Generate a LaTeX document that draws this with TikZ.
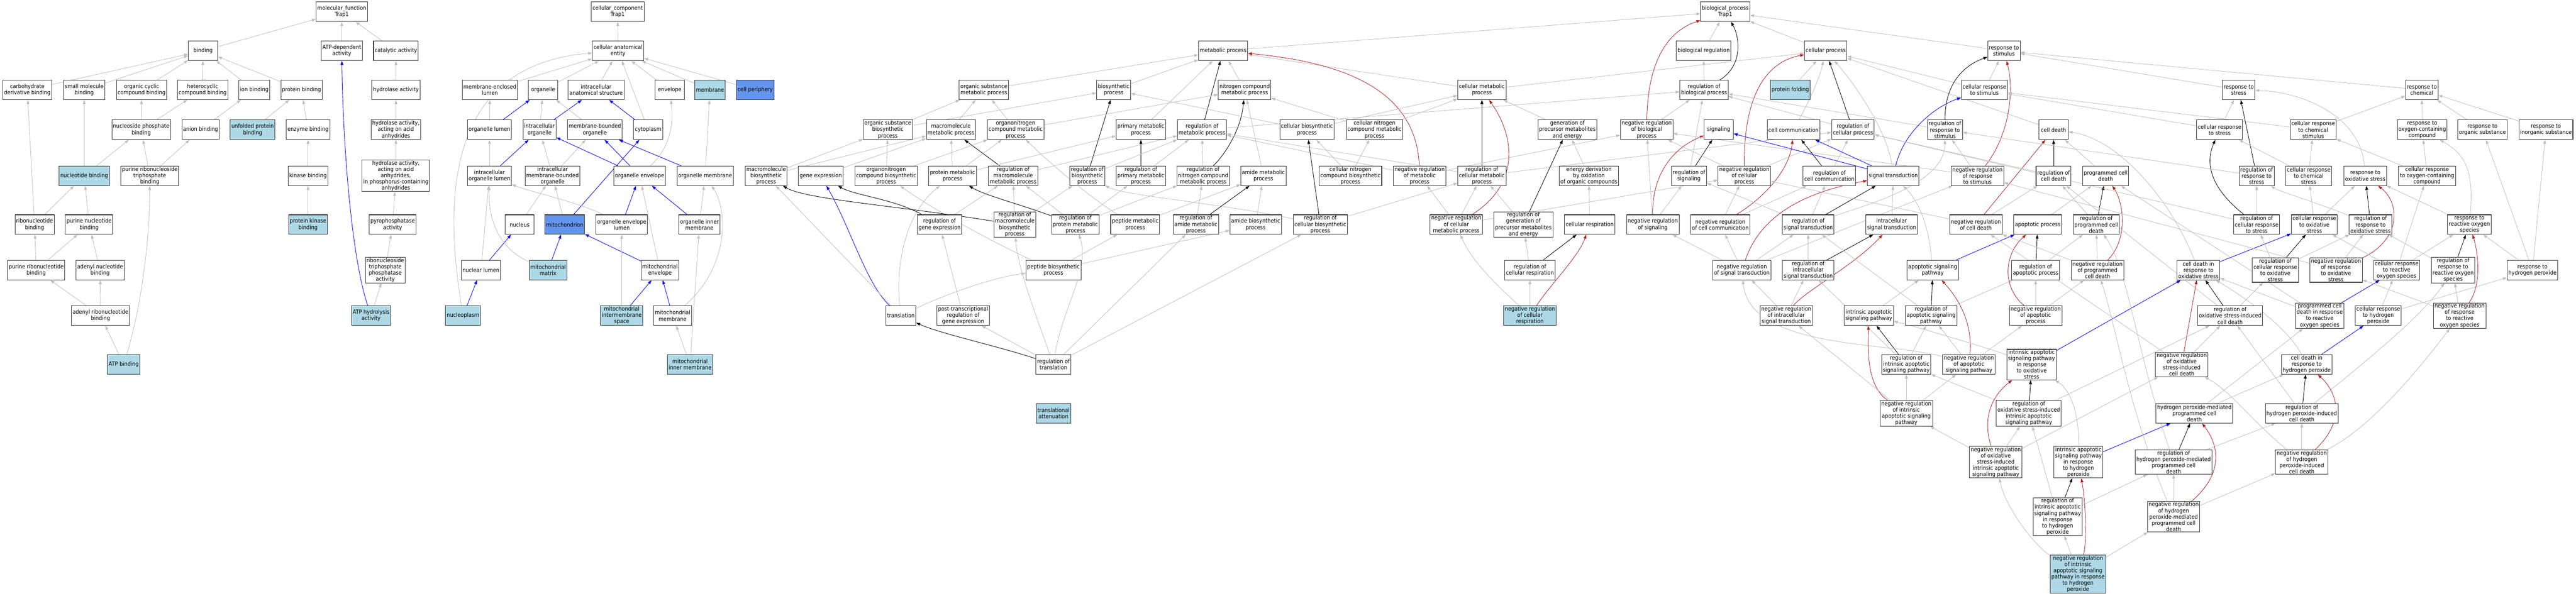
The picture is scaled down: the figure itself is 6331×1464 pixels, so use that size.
\documentclass[tikz,border=0pt]{standalone}
\usepackage{fontspec}
\setmainfont{DejaVu Sans Condensed}
\usepackage{xcolor}
\usetikzlibrary{arrows.meta}
\definecolor{hitblue}{RGB}{173,216,230}
\definecolor{keyblue}{RGB}{100,149,237}
\definecolor{isagrey}{RGB}{192,192,192}
\definecolor{negred}{RGB}{178,34,34}
\newcommand{\gofont}{\fontsize{14}{15.3}\selectfont}
\pgfdeclarelayer{edges}
\pgfsetlayers{edges,main}

\begin{document}
\begin{tikzpicture}[x=1pt, y=-1pt,
        gobox/.style={rectangle, draw=black!80, line width=1.3pt, fill=white, align=center, font=\gofont, minimum width=72pt, minimum height=48pt, inner xsep=3pt, inner ysep=1.5pt},
        hitbox/.style={gobox, fill=hitblue},
        keybox/.style={gobox, fill=keyblue},
        isa/.style={-{Triangle[length=10pt, width=7pt]}, line width=1.1pt, isagrey},
        partof/.style={isa, blue},
        reg/.style={isa, black},
        negreg/.style={isa, negred}
    ]
        \useasboundingbox (0,0) rectangle (6331,1464);

        % Molecular function
        \node[gobox] (mf) at (840,29) {molecular\_function\\Trap1};
        \node[gobox] (binding) at (499,125) {binding};
        \node[gobox] (atpdep) at (840,125) {ATP-dependent\\activity};
        \node[gobox] (catalytic) at (973,125) {catalytic activity};
        \node[gobox] (carbo) at (67,221) {carbohydrate\\derivative binding};
        \node[gobox] (smallmol) at (207,221) {small molecule\\binding};
        \node[gobox] (orgcyc) at (348,221) {organic cyclic\\compound binding};
        \node[gobox] (hetcyc) at (498,221) {heterocyclic\\compound binding};
        \node[gobox] (ionb) at (625,221) {ion binding};
        \node[gobox] (protb) at (741,221) {protein binding};
        \node[gobox] (hydro) at (973,221) {hydrolase activity};
        \node[gobox] (nsphos) at (347,319) {nucleoside phosphate\\binding};
        \node[gobox] (anion) at (493,319) {anion binding};
        \node[hitbox] (unfolded) at (621,319) {unfolded protein\\binding};
        \node[gobox] (enzyme) at (757,319) {enzyme binding};
        \node[gobox] (hydroacid) at (973,319) {hydrolase activity,\\acting on acid\\anhydrides};
        \node[hitbox] (nucbind) at (207,432) {nucleotide binding};
        \node[gobox] (prtp) at (368,432) {purine ribonucleoside\\triphosphate\\binding};
        \node[gobox] (kinase) at (757,432) {kinase binding};
        \node[gobox] (hydrophos) at (973,432) {hydrolase activity,\\acting on acid\\anhydrides,\\in phosphorus-containing\\anhydrides};
        \node[gobox] (ribonuc) at (85,552) {ribonucleotide\\binding};
        \node[gobox] (purnuc) at (219,552) {purine nucleotide\\binding};
        \node[hitbox] (protkin) at (757,552) {protein kinase\\binding};
        \node[gobox] (pyro) at (965,552) {pyrophosphatase\\activity};
        \node[gobox] (purribo) at (89,664) {purine ribonucleotide\\binding};
        \node[gobox] (adenyl) at (246,664) {adenyl nucleotide\\binding};
        \node[gobox] (rtpp) at (947,664) {ribonucleoside\\triphosphate\\phosphatase\\activity};
        \node[gobox] (adenylribo) at (247,776) {adenyl ribonucleotide\\binding};
        \node[hitbox] (atphyd) at (912,776) {ATP hydrolysis\\activity};
        \node[hitbox] (atpbind) at (304,896) {ATP binding};

        % Cellular component
        \node[gobox] (cc) at (1518,29) {cellular\_component\\Trap1};
        \node[gobox] (cae) at (1519,125) {cellular anatomical\\entity};
        \node[gobox] (melumen) at (1204,221) {membrane-enclosed\\lumen};
        \node[gobox] (organelle) at (1335,221) {organelle};
        \node[gobox] (ias) at (1465,221) {intracellular\\anatomical structure};
        \node[gobox] (envelope) at (1646,221) {envelope};
        \node[hitbox] (membrane) at (1745,221) {membrane};
        \node[keybox] (cellper) at (1856,221) {cell periphery};
        \node[gobox] (orglumen) at (1203,319) {organelle lumen};
        \node[gobox] (intraorg) at (1326,319) {intracellular\\organelle};
        \node[gobox] (mbo) at (1462,319) {membrane-bounded\\organelle};
        \node[gobox] (cytoplasm) at (1593,319) {cytoplasm};
        \node[gobox] (iol) at (1203,432) {intracellular\\organelle lumen};
        \node[gobox] (imbo) at (1358,432) {intracellular\\membrane-bounded\\organelle};
        \node[gobox] (orgenv) at (1572,432) {organelle envelope};
        \node[gobox] (orgmem) at (1733,432) {organelle membrane};
        \node[gobox] (nucleus) at (1277,552) {nucleus};
        \node[keybox] (mito) at (1388,552) {mitochondrion};
        \node[gobox] (oel) at (1528,552) {organelle envelope\\lumen};
        \node[gobox] (oim) at (1719,552) {organelle inner\\membrane};
        \node[gobox] (nuclumen) at (1182,664) {nuclear lumen};
        \node[hitbox] (mitomatrix) at (1347,664) {mitochondrial\\matrix};
        \node[gobox] (mitoenv) at (1622,664) {mitochondrial\\envelope};
        \node[hitbox] (nucleoplasm) at (1138,776) {nucleoplasm};
        \node[hitbox] (mims) at (1528,776) {mitochondrial\\intermembrane\\space};
        \node[gobox] (mitomem) at (1653,776) {mitochondrial\\membrane};
        \node[hitbox] (mimem) at (1696,896) {mitochondrial\\inner membrane};

        % Biological process: metabolism
        \node[gobox] (bp) at (4240,29) {biological\_process\\Trap1};
        \node[gobox] (metab) at (3006,125) {metabolic process};
        \node[gobox] (biolreg) at (4187,125) {biological regulation};
        \node[gobox] (osmp) at (2418,221) {organic substance\\metabolic process};
        \node[gobox] (biosyn) at (2737,221) {biosynthetic\\process};
        \node[gobox] (ncmp) at (3059,221) {nitrogen compound\\metabolic process};
        \node[gobox] (cellmp) at (3642,221) {cellular metabolic\\process};
        \node[gobox] (regbiol) at (4188,221) {regulation of\\biological process};
        \node[gobox] (osbp) at (2182,319) {organic substance\\biosynthetic\\process};
        \node[gobox] (mmp) at (2337,319) {macromolecule\\metabolic process};
        \node[gobox] (oncmp) at (2496,319) {organonitrogen\\compound metabolic\\process};
        \node[gobox] (pmp) at (2804,319) {primary metabolic\\process};
        \node[gobox] (regmp) at (2954,319) {regulation of\\metabolic process};
        \node[gobox] (cellbp) at (3212,319) {cellular biosynthetic\\process};
        \node[gobox] (cnmp) at (3378,319) {cellular nitrogen\\compound metabolic\\process};
        \node[gobox] (genprec) at (3852,319) {generation of\\precursor metabolites\\and energy};
        \node[gobox] (negbiol) at (4047,319) {negative regulation\\of biological\\process};
        \node[gobox] (signaling) at (4224,319) {signaling};
        \node[gobox] (mbp) at (1883,432) {macromolecule\\biosynthetic\\process};
        \node[gobox] (geneexp) at (2017,432) {gene expression};
        \node[gobox] (oncbp) at (2178,432) {organonitrogen\\compound biosynthetic\\process};
        \node[gobox] (protmp) at (2341,432) {protein metabolic\\process};
        \node[gobox] (regmmp) at (2490,432) {regulation of\\macromolecule\\metabolic process};
        \node[gobox] (regbp) at (2672,432) {regulation of\\biosynthetic\\process};
        \node[gobox] (regpmp) at (2804,432) {regulation of\\primary metabolic\\process};
        \node[gobox] (regncmp) at (2957,432) {regulation of\\nitrogen compound\\metabolic process};
        \node[gobox] (amidemp) at (3105,432) {amide metabolic\\process};
        \node[gobox] (cnbp) at (3319,432) {cellular nitrogen\\compound biosynthetic\\process};
        \node[gobox] (negmp) at (3489,432) {negative regulation\\of metabolic\\process};
        \node[gobox] (regcmp) at (3642,432) {regulation of\\cellular metabolic\\process};
        \node[gobox] (energy) at (3905,432) {energy derivation\\by oxidation\\of organic compounds};
        \node[gobox] (regsig) at (4151,432) {regulation of\\signaling};
        \node[gobox] (negcp) at (4287,432) {negative regulation\\of cellular\\process};
        \node[gobox] (reggene) at (2309,552) {regulation of\\gene expression};
        \node[gobox] (regmbp) at (2494,552) {regulation of\\macromolecule\\biosynthetic\\process};
        \node[gobox] (regprotmp) at (2643,552) {regulation of\\protein metabolic\\process};
        \node[gobox] (peptmp) at (2790,552) {peptide metabolic\\process};
        \node[gobox] (regamide) at (2939,552) {regulation of\\amide metabolic\\process};
        \node[gobox] (amidebp) at (3086,552) {amide biosynthetic\\process};
        \node[gobox] (regcbp) at (3245,552) {regulation of\\cellular biosynthetic\\process};
        \node[gobox] (negcmp) at (3579,552) {negative regulation\\of cellular\\metabolic process};
        \node[gobox] (reggen) at (3744,552) {regulation of\\generation of\\precursor metabolites\\and energy};
        \node[gobox] (cellresp) at (3907,552) {cellular respiration};
        \node[gobox] (negsig) at (4062,552) {negative regulation\\of signaling};
        \node[gobox] (negcc) at (4228,552) {negative regulation\\of cell communication};
        \node[gobox] (peptbp) at (2589,664) {peptide biosynthetic\\process};
        \node[gobox] (regcr) at (3760,664) {regulation of\\cellular respiration};
        \node[gobox] (negst) at (4281,664) {negative regulation\\of signal transduction};
        \node[gobox] (translation) at (2214,776) {translation};
        \node[gobox] (ptrge) at (2367,776) {post-transcriptional\\regulation of\\gene expression};
        \node[hitbox] (negcr) at (3760,776) {negative regulation\\of cellular\\respiration};
        \node[gobox] (regtransl) at (2589,896) {regulation of\\translation};
        \node[hitbox] (transatt) at (2589,1016) {translational\\attenuation};

        % Biological process: signalling and cell death
        \node[gobox] (cellproc) at (4487,125) {cellular process};
        \node[gobox] (respstim) at (4925,125) {response to\\stimulus};
        \node[hitbox] (protfold) at (4400,221) {protein folding};
        \node[gobox] (crs) at (4877,221) {cellular response\\to stimulus};
        \node[gobox] (cellcomm) at (4408,319) {cell communication};
        \node[gobox] (regcp) at (4554,319) {regulation of\\cellular process};
        \node[gobox] (regrs) at (4780,319) {regulation of\\response to\\stimulus};
        \node[gobox] (celldeath) at (5047,319) {cell death};
        \node[gobox] (regcc) at (4496,432) {regulation of\\cell communication};
        \node[gobox] (sigtrans) at (4653,432) {signal transduction};
        \node[gobox] (negrs) at (4860,432) {negative regulation\\of response\\to stimulus};
        \node[gobox] (regcd) at (5047,432) {regulation of\\cell death};
        \node[gobox] (pcd) at (5175,432) {programmed cell\\death};
        \node[gobox] (regst) at (4444,552) {regulation of\\signal transduction};
        \node[gobox] (ist) at (4649,552) {intracellular\\signal transduction};
        \node[gobox] (negcd) at (4856,552) {negative regulation\\of cell death};
        \node[gobox] (apop) at (5008,552) {apoptotic process};
        \node[gobox] (regpcd) at (5152,552) {regulation of\\programmed cell\\death};
        \node[gobox] (regist) at (4444,664) {regulation of\\intracellular\\signal transduction};
        \node[gobox] (asp) at (4750,664) {apoptotic signaling\\pathway};
        \node[gobox] (regap) at (5003,664) {regulation of\\apoptotic process};
        \node[gobox] (negpcd) at (5155,664) {negative regulation\\of programmed\\cell death};
        \node[gobox] (negist) at (4390,776) {negative regulation\\of intracellular\\signal transduction};
        \node[gobox] (iasp) at (4593,776) {intrinsic apoptotic\\signaling pathway};
        \node[gobox] (regasp) at (4746,776) {regulation of\\apoptotic signaling\\pathway};
        \node[gobox] (negap) at (5003,776) {negative regulation\\of apoptotic\\process};
        \node[gobox] (regiasp) at (4685,896) {regulation of\\intrinsic apoptotic\\signaling pathway};
        \node[gobox] (negasp) at (4839,896) {negative regulation\\of apoptotic\\signaling pathway};
        \node[gobox] (iaspox) at (4993,896) {intrinsic apoptotic\\signaling pathway\\in response\\to oxidative\\stress};
        \node[gobox] (negiasp) at (4685,1016) {negative regulation\\of intrinsic\\apoptotic signaling\\pathway};
        \node[gobox] (regosiasp) at (4986,1016) {regulation of\\oxidative stress-induced\\intrinsic apoptotic\\signaling pathway};
        \node[gobox] (negosiasp) at (4905,1136) {negative regulation\\of oxidative\\stress-induced\\intrinsic apoptotic\\signaling pathway};
        \node[gobox] (iasph2o2) at (5108,1136) {intrinsic apoptotic\\signaling pathway\\in response\\to hydrogen\\peroxide};
        \node[gobox] (regiasph) at (5057,1270) {regulation of\\intrinsic apoptotic\\signaling pathway\\in response\\to hydrogen\\peroxide};
        \node[hitbox] (negiasph) at (5107,1411) {negative regulation\\of intrinsic\\apoptotic signaling\\pathway in response\\to hydrogen\\peroxide};

        % Biological process: stress responses
        \node[gobox] (rstress) at (5502,221) {response to\\stress};
        \node[gobox] (rchem) at (5952,221) {response to\\chemical};
        \node[gobox] (crstress) at (5455,319) {cellular response\\to stress};
        \node[gobox] (crchem) at (5685,319) {cellular response\\to chemical\\stimulus};
        \node[gobox] (rocc) at (5953,319) {response to\\oxygen-containing\\compound};
        \node[gobox] (rorg) at (6101,319) {response to\\organic substance};
        \node[gobox] (rinorg) at (6257,319) {response to\\inorganic substance};
        \node[gobox] (regrstress) at (5546,432) {regulation of\\response to\\stress};
        \node[gobox] (crchemstress) at (5674,432) {cellular response\\to chemical\\stress};
        \node[gobox] (rox) at (5813,432) {response to\\oxidative stress};
        \node[gobox] (crocc) at (5965,432) {cellular response\\to oxygen-containing\\compound};
        \node[gobox] (regcrs) at (5546,552) {regulation of\\cellular response\\to stress};
        \node[gobox] (crox) at (5688,552) {cellular response\\to oxidative\\stress};
        \node[gobox] (regrox) at (5826,552) {regulation of\\response to\\oxidative stress};
        \node[gobox] (rros) at (6069,552) {response to\\reactive oxygen\\species};
        \node[gobox] (cdox) at (5403,664) {cell death in\\response to\\oxidative stress};
        \node[gobox] (regcrox) at (5592,664) {regulation of\\cellular response\\to oxidative\\stress};
        \node[gobox] (negrox) at (5741,664) {negative regulation\\of response\\to oxidative\\stress};
        \node[gobox] (crros) at (5890,664) {cellular response\\to reactive\\oxygen species};
        \node[gobox] (regrros) at (6029,664) {regulation of\\response to\\reactive oxygen\\species};
        \node[gobox] (rh2o2) at (6224,664) {response to\\hydrogen peroxide};
        \node[gobox] (regoscd) at (5481,776) {regulation of\\oxidative stress-induced\\cell death};
        \node[gobox] (pcdros) at (5701,776) {programmed cell\\death in response\\to reactive\\oxygen species};
        \node[gobox] (crh2o2) at (5845,776) {cellular response\\to hydrogen\\peroxide};
        \node[gobox] (negrros) at (6045,776) {negative regulation\\of response\\to reactive\\oxygen species};
        \node[gobox] (negoscd) at (5362,896) {negative regulation\\of oxidative\\stress-induced\\cell death};
        \node[gobox] (cdh2o2) at (5669,896) {cell death in\\response to\\hydrogen peroxide};
        \node[gobox] (h2o2pcd) at (5393,1016) {hydrogen peroxide-mediated\\programmed cell\\death};
        \node[gobox] (reghicd) at (5657,1016) {regulation of\\hydrogen peroxide-induced\\cell death};
        \node[gobox] (regh2o2pcd) at (5342,1136) {regulation of\\hydrogen peroxide-mediated\\programmed cell\\death};
        \node[gobox] (neghicd) at (5657,1136) {negative regulation\\of hydrogen\\peroxide-induced\\cell death};
        \node[gobox] (negh2o2pcd) at (5342,1270) {negative regulation\\of hydrogen\\peroxide-mediated\\programmed cell\\death};

        \begin{pgfonlayer}{edges}
        \fill[white] (0,0) rectangle (6331,1464);

        % Molecular function edges
        \draw[isa] (binding) -- (mf);
        \draw[isa] (atpdep) -- (mf);
        \draw[isa] (catalytic) -- (mf);
        \draw[isa] (carbo) -- (binding);
        \draw[isa] (smallmol) -- (binding);
        \draw[isa] (orgcyc) -- (binding);
        \draw[isa] (hetcyc) -- (binding);
        \draw[isa] (ionb) -- (binding);
        \draw[isa] (protb) -- (binding);
        \draw[isa] (hydro) -- (catalytic);
        \draw[isa] (nsphos) -- (orgcyc);
        \draw[isa] (nsphos) -- (hetcyc);
        \draw[isa] (anion) -- (ionb);
        \draw[isa] (unfolded) -- (protb);
        \draw[isa] (enzyme) -- (protb);
        \draw[isa] (hydroacid) -- (hydro);
        \draw[isa] (nucbind) -- (smallmol);
        \draw[isa] (nucbind) -- (nsphos);
        \draw[isa] (prtp) -- (nsphos);
        \draw[isa] (prtp) -- (anion);
        \draw[isa] (kinase) -- (enzyme);
        \draw[isa] (hydrophos) -- (hydroacid);
        \draw[isa] (ribonuc) -- (carbo);
        \draw[isa] (ribonuc) -- (nucbind);
        \draw[isa] (purnuc) -- (nucbind);
        \draw[isa] (protkin) -- (kinase);
        \draw[isa] (pyro) -- (hydrophos);
        \draw[isa] (purribo) -- (ribonuc);
        \draw[isa] (purribo) -- (purnuc);
        \draw[isa] (adenyl) -- (purnuc);
        \draw[isa] (rtpp) -- (pyro);
        \draw[isa] (adenylribo) -- (purribo);
        \draw[isa] (adenylribo) -- (adenyl);
        \draw[isa] (atpbind) -- (adenylribo);
        \draw[isa] (atpbind) .. controls (345,760) and (368,600) .. (prtp);
        \draw[isa] (atphyd) -- (rtpp);
        \draw[partof] (atphyd) .. controls (860,620) and (842,320) .. (atpdep);

        % Cellular component edges
        \draw[isa] (cae) -- (cc);
        \draw[isa] (melumen) -- (cae);
        \draw[isa] (organelle) -- (cae);
        \draw[isa] (ias) -- (cae);
        \draw[isa] (cytoplasm) -- (cae);
        \draw[isa] (envelope) -- (cae);
        \draw[isa] (membrane) -- (cae);
        \draw[isa] (cellper) -- (cae);
        \draw[isa] (nucleoplasm) .. controls (1090,480) and (1100,160) .. (cae);
        \draw[isa] (orglumen) -- (melumen);
        \draw[partof] (orglumen) -- (organelle);
        \draw[isa] (intraorg) -- (organelle);
        \draw[partof] (intraorg) -- (ias);
        \draw[isa] (mbo) -- (organelle);
        \draw[partof] (cytoplasm) -- (ias);
        \draw[isa] (iol) -- (orglumen);
        \draw[partof] (iol) -- (intraorg);
        \draw[isa] (imbo) -- (intraorg);
        \draw[isa] (imbo) -- (mbo);
        \draw[partof] (orgenv) -- (intraorg);
        \draw[partof] (orgenv) -- (mbo);
        \draw[isa] (orgenv) .. controls (1650,360) and (1655,300) .. (envelope);
        \draw[partof] (orgmem) -- (mbo);
        \draw[isa] (orgmem) -- (membrane);
        \draw[partof] (mito) -- (cytoplasm);
        \draw[isa] (mito) -- (imbo);
        \draw[isa] (nucleus) -- (imbo);
        \draw[isa] (oel) .. controls (1430,500) and (1300,470) .. (iol);
        \draw[partof] (oel) -- (orgenv);
        \draw[partof] (oim) -- (orgenv);
        \draw[isa] (oim) -- (orgmem);
        \draw[isa] (nuclumen) -- (iol);
        \draw[partof] (nuclumen) -- (nucleus);
        \draw[isa] (mitomatrix) .. controls (1225,610) and (1200,540) .. (iol);
        \draw[partof] (mitomatrix) -- (mito);
        \draw[partof] (mitoenv) -- (mito);
        \draw[isa] (mitoenv) -- (orgenv);
        \draw[partof] (nucleoplasm) -- (nuclumen);
        \draw[isa] (mims) -- (oel);
        \draw[partof] (mims) -- (mitoenv);
        \draw[partof] (mitomem) -- (mitoenv);
        \draw[isa] (mitomem) .. controls (1790,660) and (1790,520) .. (orgmem);
        \draw[isa] (mimem) -- (mitomem);
        \draw[isa] (mimem) -- (oim);

        % Metabolism edges
        \draw[isa] (metab) -- (bp);
        \draw[isa] (biolreg) -- (bp);
        \draw[isa] (osmp) -- (metab);
        \draw[isa] (biosyn) -- (metab);
        \draw[isa] (ncmp) -- (metab);
        \draw[isa] (pmp) -- (metab);
        \draw[isa] (cellmp) -- (metab);
        \draw[reg] (regmp) -- (metab);
        \draw[negreg] (negmp) .. controls (3480,200) and (3260,150) .. (metab);
        \draw[isa] (osbp) -- (osmp);
        \draw[isa] (mmp) -- (osmp);
        \draw[isa] (oncmp) -- (osmp);
        \draw[isa] (osbp) -- (biosyn);
        \draw[isa] (cellbp) -- (biosyn);
        \draw[reg] (regbp) -- (biosyn);
        \draw[isa] (oncmp) -- (ncmp);
        \draw[isa] (cnmp) -- (ncmp);
        \draw[isa] (amidemp) -- (ncmp);
        \draw[reg] (regncmp) .. controls (3010,380) and (3050,320) .. (ncmp);
        \draw[isa] (protmp) -- (mmp);
        \draw[isa] (mbp) -- (mmp);
        \draw[isa] (geneexp) -- (mmp);
        \draw[reg] (regmmp) -- (mmp);
        \draw[isa] (oncbp) -- (oncmp);
        \draw[isa] (protmp) -- (oncmp);
        \draw[isa] (peptmp) .. controls (2700,500) and (2600,420) .. (oncmp);
        \draw[isa] (oncbp) -- (osbp);
        \draw[isa] (mbp) -- (osbp);
        \draw[isa] (protmp) -- (pmp);
        \draw[reg] (regpmp) -- (pmp);
        \draw[isa] (regbp) -- (regmp);
        \draw[isa] (regpmp) -- (regmp);
        \draw[isa] (regncmp) -- (regmp);
        \draw[isa] (regmmp) -- (regmp);
        \draw[isa] (regcmp) -- (regmp);
        \draw[isa] (negmp) -- (regmp);
        \draw[isa] (regmp) -- (regbiol);
        \draw[partof] (translation) .. controls (2130,700) and (2090,560) .. (geneexp);
        \draw[isa] (translation) .. controls (2200,640) and (2230,520) .. (protmp);
        \draw[isa] (translation) -- (mbp);
        \draw[isa] (translation) .. controls (2330,720) and (2450,680) .. (peptbp);
        \draw[isa] (ptrge) -- (reggene);
        \draw[reg] (regtransl) .. controls (2450,850) and (2310,820) .. (translation);
        \draw[isa] (regtransl) -- (ptrge);
        \draw[isa] (regtransl) .. controls (2540,760) and (2500,650) .. (regmbp);
        \draw[isa] (regtransl) .. controls (2610,760) and (2680,660) .. (regprotmp);
        \draw[isa] (regtransl) -- (regamide);
        \draw[isa] (regtransl) -- (regcbp);
        \draw[isa] (peptbp) -- (peptmp);
        \draw[isa] (peptbp) -- (amidebp);
        \draw[isa] (peptbp) .. controls (2450,600) and (2300,520) .. (oncbp);
        \draw[isa] (amidebp) -- (amidemp);
        \draw[isa] (regcbp) .. controls (3000,500) and (2760,480) .. (regbp);
        \draw[reg] (reggene) .. controls (2200,490) and (2100,480) .. (geneexp);
        \draw[isa] (reggene) -- (regmmp);
        \draw[reg] (regmbp) .. controls (2200,505) and (1980,490) .. (mbp);
        \draw[isa] (regmbp) -- (regmmp);
        \draw[isa] (regmbp) -- (regbp);
        \draw[reg] (regprotmp) .. controls (2500,500) and (2420,480) .. (protmp);
        \draw[isa] (regprotmp) -- (regmmp);
        \draw[isa] (regprotmp) -- (regpmp);
        \draw[isa] (regprotmp) -- (regncmp);
        \draw[reg] (regamide) -- (amidemp);
        \draw[isa] (regamide) -- (regncmp);
        \draw[isa] (peptmp) -- (amidemp);
        \draw[isa] (cellmp) -- (cellproc);
        \draw[isa] (cellbp) -- (cellmp);
        \draw[isa] (cnmp) -- (cellmp);
        \draw[isa] (genprec) -- (cellmp);
        \draw[reg] (regcmp) -- (cellmp);
        \draw[negreg] (negcmp) .. controls (3740,450) and (3720,330) .. (cellmp);
        \draw[isa] (cnbp) -- (cnmp);
        \draw[isa] (cnbp) -- (cellbp);
        \draw[reg] (regcbp) -- (cellbp);
        \draw[isa] (negmp) -- (negbiol);
        \draw[isa] (negbiol) -- (regbiol);
        \draw[negreg] (negbiol) .. controls (4050,120) and (4120,70) .. (bp);
        \draw[isa] (regbiol) -- (biolreg);
        \draw[reg] (regbiol) .. controls (4285,160) and (4275,90) .. (bp);
        \draw[isa] (regcmp) -- (regcp);
        \draw[isa] (energy) -- (genprec);
        \draw[reg] (reggen) -- (genprec);
        \draw[isa] (reggen) -- (regcmp);
        \draw[isa] (regcbp) -- (regcmp);
        \draw[isa] (negcmp) -- (negmp);
        \draw[isa] (negcmp) -- (regcmp);
        \draw[isa] (negcmp) -- (negcp);
        \draw[isa] (cellresp) -- (energy);
        \draw[reg] (regcr) -- (cellresp);
        \draw[isa] (regcr) -- (reggen);
        \draw[negreg] (negcr) .. controls (3810,700) and (3880,630) .. (cellresp);
        \draw[isa] (negcr) -- (regcr);
        \draw[isa] (negcr) .. controls (3700,720) and (3620,650) .. (negcmp);
        \draw[reg] (regsig) -- (signaling);
        \draw[isa] (regsig) -- (regbiol);
        \draw[negreg] (negsig) .. controls (4060,420) and (4120,360) .. (signaling);
        \draw[isa] (negsig) -- (regsig);
        \draw[isa] (negsig) -- (negbiol);

        % Signalling and cell death edges
        \draw[isa] (cellproc) -- (bp);
        \draw[isa] (respstim) -- (bp);
        \draw[isa] (protfold) -- (cellproc);
        \draw[isa] (cellcomm) .. controls (4440,260) and (4470,200) .. (cellproc);
        \draw[reg] (regcp) -- (cellproc);
        \draw[isa] (sigtrans) .. controls (4640,330) and (4570,220) .. (cellproc);
        \draw[isa] (crs) -- (cellproc);
        \draw[isa] (celldeath) -- (cellproc);
        \draw[negreg] (negcp) .. controls (4285,220) and (4350,150) .. (cellproc);
        \draw[isa] (negcp) -- (negbiol);
        \draw[isa] (negcp) -- (regcp);
        \draw[isa] (crs) -- (respstim);
        \draw[reg] (regrs) .. controls (4780,200) and (4830,160) .. (respstim);
        \draw[negreg] (negrs) .. controls (4940,330) and (4950,220) .. (respstim);
        \draw[isa] (regrs) -- (regbiol);
        \draw[isa] (regcp) -- (regbiol);
        \draw[isa] (negrs) -- (regrs);
        \draw[isa] (negrs) -- (negbiol);
        \draw[reg] (regcc) -- (cellcomm);
        \draw[isa] (regcc) -- (regcp);
        \draw[negreg] (negcc) .. controls (4360,470) and (4400,400) .. (cellcomm);
        \draw[isa] (negcc) -- (regcc);
        \draw[isa] (negcc) -- (negcp);
        \draw[partof] (sigtrans) -- (signaling);
        \draw[partof] (sigtrans) -- (cellcomm);
        \draw[partof] (sigtrans) .. controls (4680,320) and (4760,260) .. (crs);
        \draw[reg] (regst) -- (sigtrans);
        \draw[isa] (regst) -- (regcc);
        \draw[isa] (regst) -- (regsig);
        \draw[isa] (regst) .. controls (4600,500) and (4780,450) .. (regrs);
        \draw[negreg] (negst) .. controls (4330,520) and (4450,470) .. (sigtrans);
        \draw[isa] (negst) -- (regst);
        \draw[isa] (negst) -- (negcc);
        \draw[isa] (negst) -- (negsig);
        \draw[isa] (negst) -- (negrs);
        \draw[isa] (ist) -- (sigtrans);
        \draw[reg] (regist) -- (ist);
        \draw[isa] (regist) -- (regst);
        \draw[negreg] (negist) .. controls (4430,720) and (4560,650) .. (ist);
        \draw[isa] (negist) -- (regist);
        \draw[isa] (negist) -- (negst);
        \draw[isa] (asp) .. controls (4740,560) and (4720,500) .. (sigtrans);
        \draw[partof] (asp) -- (apop);
        \draw[isa] (iasp) -- (asp);
        \draw[reg] (regasp) -- (asp);
        \draw[isa] (regasp) -- (regap);
        \draw[isa] (regasp) -- (regst);
        \draw[reg] (regap) -- (apop);
        \draw[isa] (regap) -- (regpcd);
        \draw[negreg] (negap) .. controls (4915,700) and (4930,620) .. (apop);
        \draw[isa] (negap) -- (regap);
        \draw[isa] (negap) -- (negpcd);
        \draw[negreg] (negcd) -- (celldeath);
        \draw[isa] (negcd) -- (regcd);
        \draw[isa] (negcd) -- (negcp);
        \draw[reg] (regcd) -- (celldeath);
        \draw[isa] (regcd) -- (regcp);
        \draw[isa] (pcd) -- (celldeath);
        \draw[isa] (apop) -- (pcd);
        \draw[reg] (regpcd) -- (pcd);
        \draw[isa] (regpcd) -- (regcd);
        \draw[negreg] (negpcd) .. controls (5230,590) and (5220,500) .. (pcd);
        \draw[isa] (negpcd) -- (regpcd);
        \draw[isa] (negpcd) -- (negcd);
        \draw[reg] (regiasp) -- (iasp);
        \draw[isa] (regiasp) -- (regasp);
        \draw[isa] (regiasp) -- (regist);
        \draw[negreg] (negasp) .. controls (4850,780) and (4800,720) .. (asp);
        \draw[isa] (negasp) -- (regasp);
        \draw[isa] (negasp) -- (negap);
        \draw[isa] (negasp) .. controls (4650,840) and (4300,860) .. (negst);
        \draw[isa] (iaspox) .. controls (4900,860) and (4700,800) .. (iasp);
        \draw[partof] (iaspox) -- (cdox);
        \draw[negreg] (negiasp) .. controls (4590,950) and (4590,870) .. (iasp);
        \draw[isa] (negiasp) -- (regiasp);
        \draw[isa] (negiasp) -- (negasp);
        \draw[isa] (negiasp) -- (negist);
        \draw[reg] (regosiasp) -- (iaspox);
        \draw[isa] (regosiasp) -- (regiasp);
        \draw[isa] (regosiasp) -- (regoscd);
        \draw[negreg] (negosiasp) .. controls (4870,1020) and (4900,970) .. (iaspox);
        \draw[isa] (negosiasp) -- (regosiasp);
        \draw[isa] (negosiasp) -- (negiasp);
        \draw[isa] (negosiasp) -- (negoscd);
        \draw[isa] (iasph2o2) .. controls (5110,1020) and (5090,960) .. (iaspox);
        \draw[partof] (iasph2o2) -- (h2o2pcd);
        \draw[reg] (regiasph) -- (iasph2o2);
        \draw[isa] (regiasph) -- (regosiasp);
        \draw[isa] (regiasph) -- (regh2o2pcd);
        \draw[negreg] (negiasph) .. controls (5130,1330) and (5125,1230) .. (iasph2o2);
        \draw[isa] (negiasph) -- (regiasph);
        \draw[isa] (negiasph) .. controls (5000,1340) and (4930,1250) .. (negosiasp);
        \draw[isa] (negiasph) -- (negh2o2pcd);

        % Stress response edges
        \draw[isa] (rstress) -- (respstim);
        \draw[isa] (rchem) -- (respstim);
        \draw[isa] (crstress) -- (crs);
        \draw[isa] (crchem) -- (crs);
        \draw[isa] (crstress) -- (rstress);
        \draw[isa] (crchem) -- (rchem);
        \draw[isa] (rocc) -- (rchem);
        \draw[isa] (rorg) -- (rchem);
        \draw[isa] (rinorg) -- (rchem);
        \draw[reg] (regrstress) -- (rstress);
        \draw[isa] (regrstress) -- (regrs);
        \draw[isa] (crchemstress) -- (crchem);
        \draw[isa] (crchemstress) -- (crstress);
        \draw[isa] (rox) .. controls (5800,280) and (5650,225) .. (rstress);
        \draw[isa] (crocc) -- (crchem);
        \draw[isa] (crocc) -- (rocc);
        \draw[reg] (regcrs) .. controls (5430,460) and (5420,400) .. (crstress);
        \draw[isa] (regcrs) -- (regrstress);
        \draw[isa] (regcrs) -- (regcp);
        \draw[isa] (crox) -- (crchemstress);
        \draw[isa] (crox) -- (rox);
        \draw[reg] (regrox) -- (rox);
        \draw[isa] (regrox) .. controls (5700,500) and (5600,470) .. (regrstress);
        \draw[isa] (rros) -- (rox);
        \draw[isa] (rros) .. controls (6080,420) and (6060,380) .. (rocc);
        \draw[isa] (cdox) .. controls (5330,480) and (5200,340) .. (celldeath);
        \draw[partof] (cdox) -- (crox);
        \draw[reg] (regcrox) -- (crox);
        \draw[isa] (regcrox) -- (regcrs);
        \draw[isa] (regcrox) -- (regrox);
        \draw[negreg] (negrox) .. controls (5900,590) and (5900,500) .. (rox);
        \draw[isa] (negrox) -- (regrox);
        \draw[isa] (negrox) -- (negrs);
        \draw[isa] (crros) -- (rros);
        \draw[isa] (crros) -- (crox);
        \draw[isa] (crros) -- (crocc);
        \draw[reg] (regrros) -- (rros);
        \draw[isa] (regrros) -- (regrox);
        \draw[isa] (rh2o2) -- (rros);
        \draw[isa] (rh2o2) -- (rorg);
        \draw[isa] (rh2o2) -- (rinorg);
        \draw[reg] (regoscd) -- (cdox);
        \draw[isa] (regoscd) -- (regcrox);
        \draw[isa] (regoscd) -- (regcd);
        \draw[isa] (pcdros) -- (cdox);
        \draw[isa] (pcdros) -- (pcd);
        \draw[partof] (pcdros) -- (crros);
        \draw[isa] (crh2o2) -- (crros);
        \draw[isa] (crh2o2) -- (rh2o2);
        \draw[negreg] (negrros) .. controls (6100,700) and (6090,620) .. (rros);
        \draw[isa] (negrros) -- (regrros);
        \draw[isa] (negrros) -- (negrox);
        \draw[negreg] (negoscd) -- (cdox);
        \draw[isa] (negoscd) -- (regoscd);
        \draw[isa] (negoscd) -- (negcd);
        \draw[partof] (cdh2o2) -- (crh2o2);
        \draw[isa] (cdh2o2) .. controls (5620,800) and (5500,720) .. (cdox);
        \draw[reg] (reghicd) -- (cdh2o2);
        \draw[isa] (reghicd) -- (regoscd);
        \draw[isa] (reghicd) .. controls (5800,900) and (5950,780) .. (regrros);
        \draw[isa] (h2o2pcd) -- (pcdros);
        \draw[isa] (h2o2pcd) -- (cdh2o2);
        \draw[reg] (regh2o2pcd) -- (h2o2pcd);
        \draw[isa] (regh2o2pcd) -- (reghicd);
        \draw[isa] (regh2o2pcd) .. controls (5250,860) and (5230,660) .. (regpcd);
        \draw[negreg] (neghicd) .. controls (5770,1030) and (5740,960) .. (cdh2o2);
        \draw[isa] (neghicd) -- (reghicd);
        \draw[isa] (neghicd) .. controls (5830,1050) and (5950,900) .. (negrros);
        \draw[isa] (neghicd) .. controls (5530,1030) and (5480,960) .. (negoscd);
        \draw[negreg] (negh2o2pcd) .. controls (5470,1160) and (5450,1090) .. (h2o2pcd);
        \draw[isa] (negh2o2pcd) -- (regh2o2pcd);
        \draw[isa] (negh2o2pcd) -- (neghicd);
        \draw[isa] (negh2o2pcd) .. controls (5230,1000) and (5200,800) .. (negpcd);
        \end{pgfonlayer}

    \end{tikzpicture}
\end{document}
